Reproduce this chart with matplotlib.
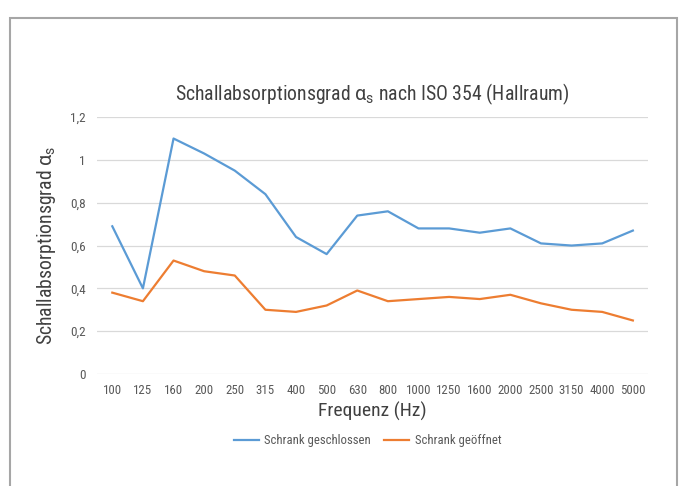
import matplotlib.pyplot as plt
from matplotlib.patches import Rectangle
import numpy as np

plt.rcParams['font.family'] = ['Roboto Condensed', 'Liberation Sans Narrow',
                               'Roboto', 'DejaVu Sans']
plt.rcParams['mathtext.fontset'] = 'custom'
plt.rcParams['mathtext.rm'] = 'Roboto'
plt.rcParams['mathtext.it'] = 'Roboto'

freqs = ["100", "125", "160", "200", "250", "315", "400", "500", "630", "800",
         "1000", "1250", "1600", "2000", "2500", "3150", "4000", "5000"]
closed = [0.69, 0.40, 1.10, 1.03, 0.95, 0.84, 0.64, 0.56, 0.74, 0.76,
          0.68, 0.68, 0.66, 0.68, 0.61, 0.60, 0.61, 0.67]
opened = [0.38, 0.34, 0.53, 0.48, 0.46, 0.30, 0.29, 0.32, 0.39, 0.34,
          0.35, 0.36, 0.35, 0.37, 0.33, 0.30, 0.29, 0.25]
yticks = [0, 0.2, 0.4, 0.6, 0.8, 1.0, 1.2]
ytick_labels = ["0", "0,2", "0,4", "0,6", "0,8", "1", "1,2"]

fig = plt.figure(figsize=(6.83, 4.86), dpi=100)
ax = fig.add_axes([0.142, 0.2305, 0.807, 0.5285])

x = np.arange(len(freqs))
ax.plot(x, closed, color="#5B9BD5", lw=1.6, label="Schrank geschlossen")
ax.plot(x, opened, color="#ED7D31", lw=1.6, label="Schrank geöffnet")

ax.set_xlim(-0.5, len(freqs) - 0.5)
ax.set_ylim(0, 1.2)
ax.set_xticks(x)
ax.set_xticklabels(freqs, fontsize=9.3, color="#595959")
ax.set_yticks(yticks)
ax.set_yticklabels(ytick_labels, fontsize=9.5, color="#595959")
ax.tick_params(axis="x", length=0, pad=7)
ax.tick_params(axis="y", length=0, pad=8)
ax.grid(axis="y", color="#D9D9D9", lw=0.9)
ax.set_axisbelow(True)
for s in ax.spines.values():
    s.set_visible(False)

ax.set_title(r"Schallabsorptionsgrad $\alpha_\mathrm{s}$ nach ISO 354 (Hallraum)",
             fontsize=14.2, color="#404040", pad=12)
ax.set_xlabel("Frequenz (Hz)", fontsize=14, color="#404040", labelpad=4)
ax.set_ylabel(r"Schallabsorptionsgrad $\alpha_\mathrm{s}$", fontsize=14.2,
              color="#404040", labelpad=9)

fig.legend(loc="center", bbox_to_anchor=(0.538, 0.093), ncol=2, frameon=False,
           fontsize=9.2, labelcolor="#595959", handlelength=2.0,
           handletextpad=0.4, columnspacing=1.0)

# outer frame around the chart
fig.patches.append(Rectangle((10 / 683, -0.1), 667 / 683, 1.063,
                             transform=fig.transFigure, fill=False,
                             edgecolor="#A6A6A6", lw=1.5))

fig.savefig("out.png", dpi=100)
